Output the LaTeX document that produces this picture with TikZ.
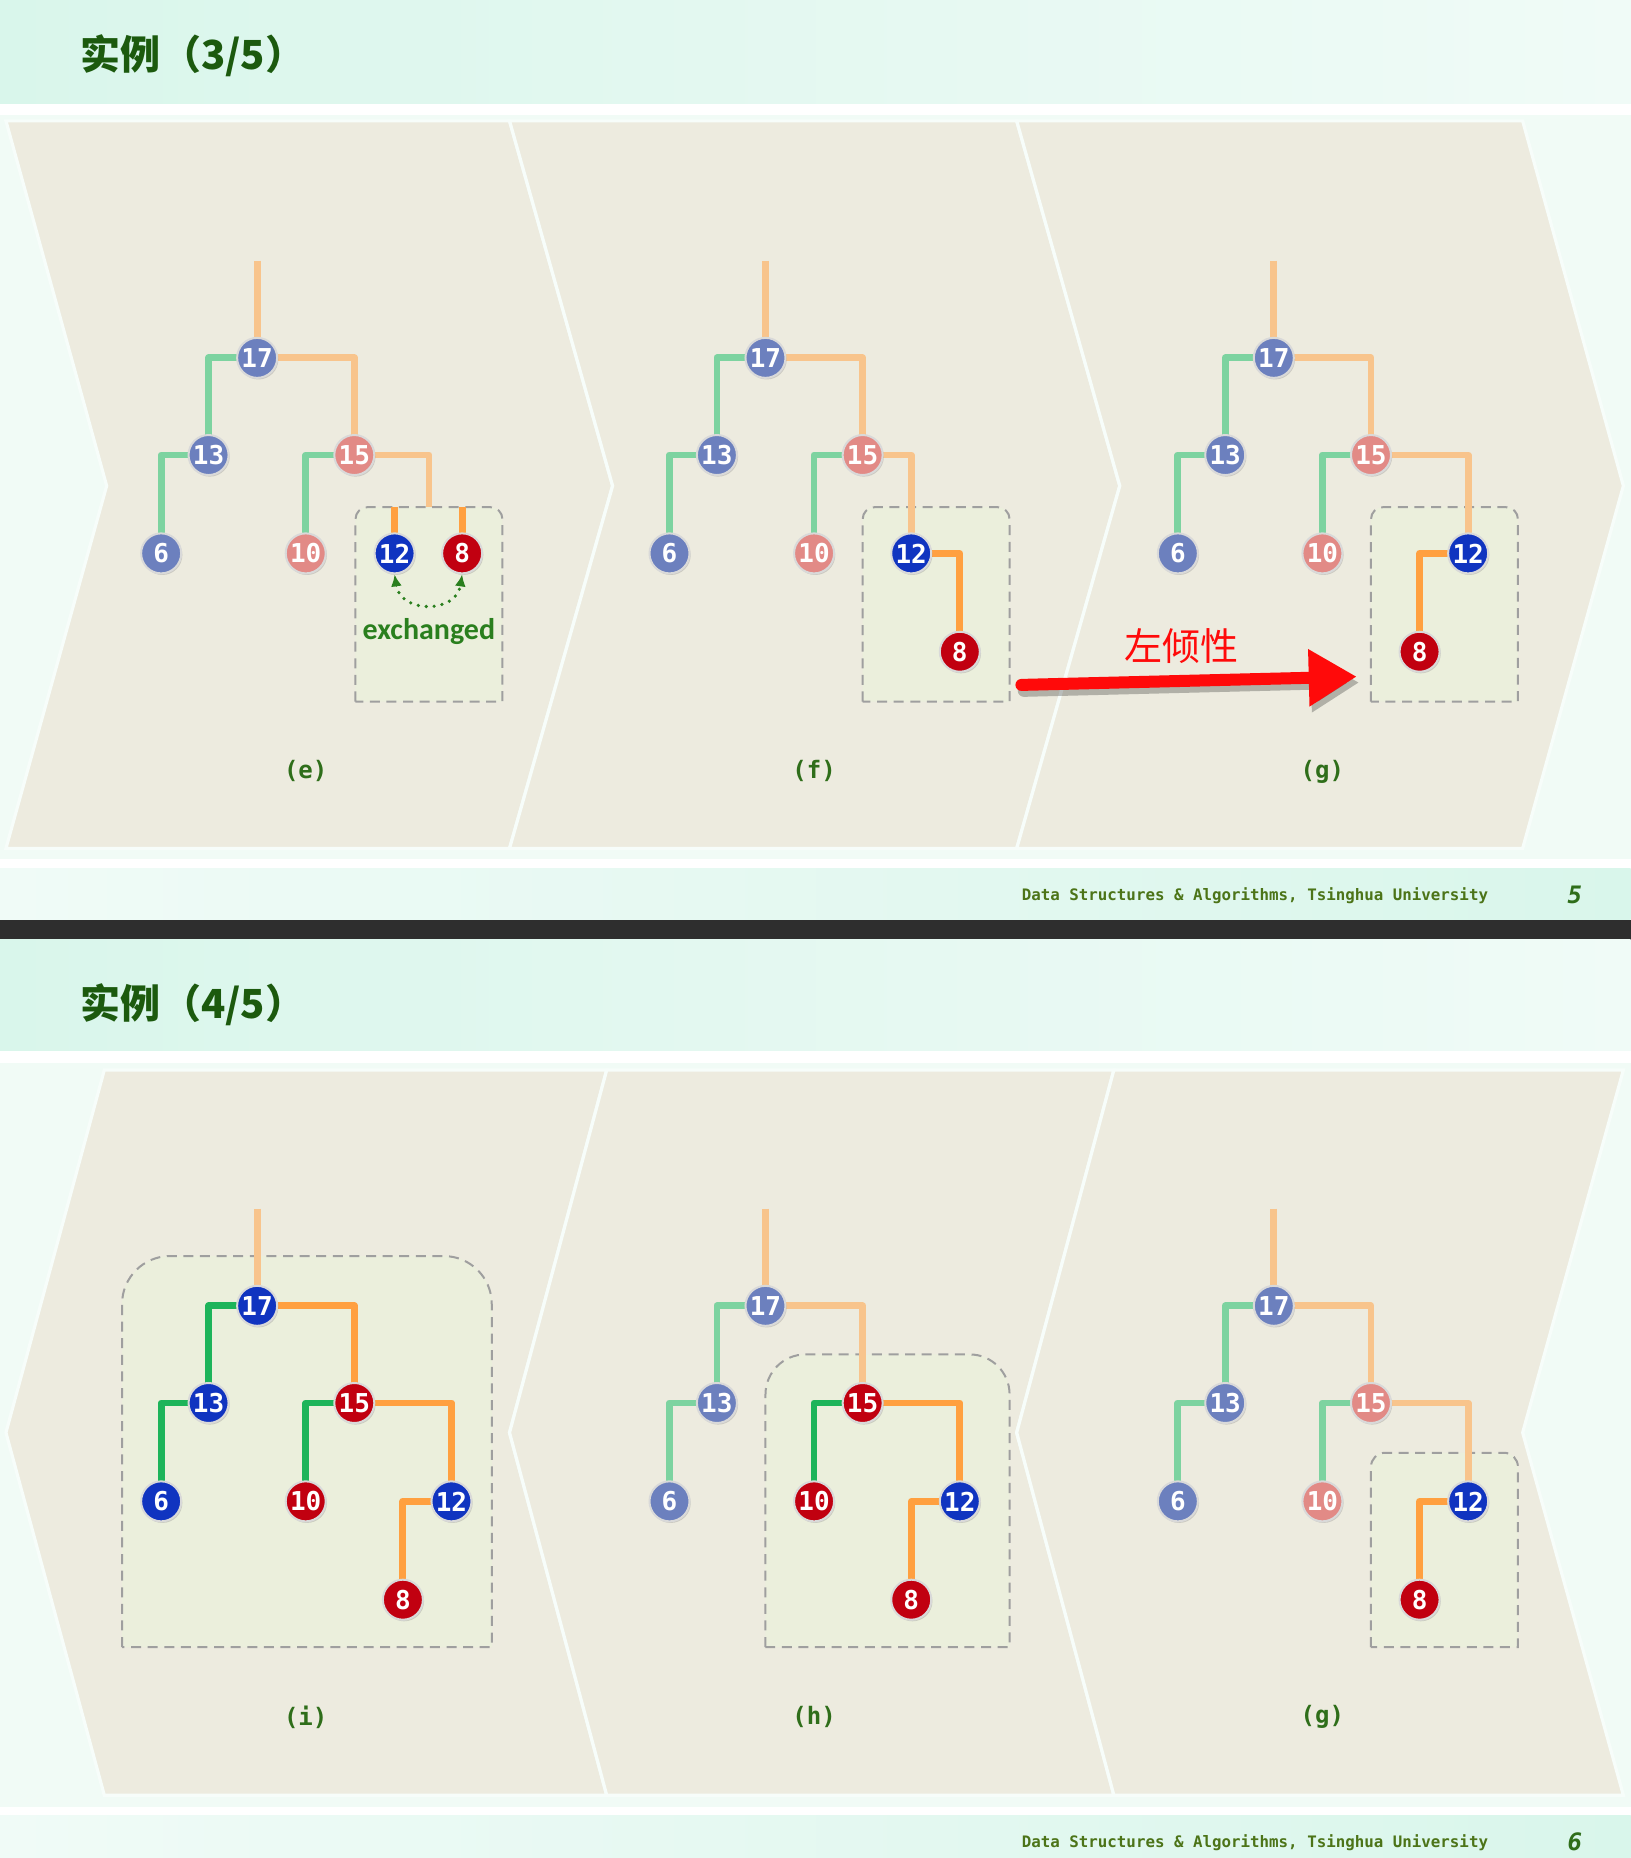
\documentclass[tikz,border=0pt]{standalone}
\usepackage{fontspec}
\usepackage{tikz}
\usetikzlibrary{arrows.meta,positioning,shadows}

\newfontfamily\monofont{DejaVu Sans Mono}
\newfontfamily\cjkfont{Noto Sans CJK SC}
\newfontfamily\calfont{Carlito}

\definecolor{mint}{HTML}{F1FBF6}
\definecolor{bandL}{HTML}{D9F6EB}
\definecolor{bandR}{HTML}{F0FBF7}
\definecolor{darkband}{HTML}{2E2E2E}
\definecolor{panel}{HTML}{EDEBDF}
\definecolor{boxfill}{HTML}{EBEFDC}
\definecolor{titlegreen}{HTML}{1C5A0E}
\definecolor{capgreen}{HTML}{2F6E1A}
\definecolor{footgreen}{HTML}{4C7418}
\definecolor{xchggreen}{HTML}{2A7F1E}
\definecolor{leanred}{HTML}{FF0A0A}
\definecolor{blkhot}{HTML}{1034C0}
\definecolor{blkdim}{HTML}{6C80BE}
\definecolor{redhot}{HTML}{C10010}
\definecolor{reddim}{HTML}{E28A86}
\definecolor{grnhot}{HTML}{1DB45A}
\definecolor{grndim}{HTML}{7DD3A0}
\definecolor{orghot}{HTML}{FFA040}
\definecolor{orgdim}{HTML}{F8C48C}

\pgfdeclarelayer{bg}
\pgfsetlayers{bg,main}

\begin{document}
\begin{tikzpicture}[
    x=0.5923pt, y=-0.5923pt,
    keynode/.style={circle, minimum size=20pt, inner sep=0pt, draw=white!70!gray, line width=1pt,
      text=white, font=\monofont\bfseries\fontsize{13}{13}\selectfont,
      drop shadow={opacity=0.3, shadow xshift=0.6pt, shadow yshift=-0.8pt}},
    bhot/.style={keynode, fill=blkhot},
    bdim/.style={keynode, fill=blkdim},
    rhot/.style={keynode, fill=redhot},
    rdim/.style={keynode, fill=reddim},
    branch/.style={line width=3.4pt, line join=round},
    lhot/.style={branch, draw=grnhot},
    ldim/.style={branch, draw=grndim},
    rlhot/.style={branch, draw=orghot},
    rldim/.style={branch, draw=orgdim},
    subtree/.style={draw=gray!75, line width=1pt, dash pattern=on 5pt off 3.3pt, fill=boxfill},
    slab/.style={fill=panel, draw=white!40!mint, line width=1.6pt},
    slidetitle/.style={anchor=west, inner sep=0pt, text=titlegreen, font=\cjkfont\bfseries\fontsize{20}{24}\selectfont},
    footer/.style={anchor=west, inner sep=0pt, text=footgreen, font=\monofont\bfseries\fontsize{7.9}{9}\selectfont},
    pageno/.style={text=capgreen, font=\monofont\bfseries\itshape\fontsize{12}{12}\selectfont},
    panellabel/.style={text=capgreen, font=\monofont\bfseries\fontsize{12}{12}\selectfont},
    xchg/.style={draw=xchggreen, line width=1.8pt, line cap=round, dash pattern=on 0pt off 4pt,
      {Latex[length=6pt,width=5.5pt]}-{Latex[length=6pt,width=5.5pt]}},
    xnote/.style={text=xchggreen, font=\calfont\bfseries\fontsize{15}{15}\selectfont},
    lean/.style={draw=leanred, line width=6pt, line cap=round, -{Triangle[length=24pt,width=27pt]}},
]
\useasboundingbox (0,0) rectangle (1376,1568);

\begin{pgfonlayer}{bg}
  \fill[mint] (0,0) rectangle (1376,1568);
  \shade[left color=bandL, right color=bandR] (0,0) rectangle (1376,88);
  \fill[white] (0,88) rectangle (1376,97);
  \fill[white] (0,725) rectangle (1376,733);
  \shade[left color=bandR, right color=bandL] (0,733) rectangle (1376,776);
  \fill[darkband] (0,776) rectangle (1376,793);
  \shade[left color=bandL, right color=bandR] (0,793) rectangle (1376,887);
  \fill[white] (0,887) rectangle (1376,897);
  \fill[white] (0,1525) rectangle (1376,1532);
  \shade[left color=bandR, right color=bandL] (0,1532) rectangle (1376,1568);
  \path[slab] (5,102) -- (430,102) -- (517,410) -- (430,716) -- (5,716) -- (90,410) -- cycle;
  \path[slab] (430,102) -- (858,102) -- (945,410) -- (858,716) -- (430,716) -- (517,410) -- cycle;
  \path[slab] (858,102) -- (1285,102) -- (1370,410) -- (1285,716) -- (858,716) -- (945,410) -- cycle;
  \path[slab] (88,903) -- (512,903) -- (430,1209) -- (512,1515) -- (88,1515) -- (5,1209) -- cycle;
  \path[slab] (512,903) -- (940,903) -- (858,1209) -- (940,1515) -- (512,1515) -- (430,1209) -- cycle;
  \path[slab] (940,903) -- (1370,903) -- (1285,1209) -- (1370,1515) -- (940,1515) -- (858,1209) -- cycle;
  \path[subtree] (300,592) [rounded corners=6pt] -- (300,428) -- (424,428) [sharp corners] -- (424,592) -- cycle;
  \path[subtree] (728,592) [rounded corners=6pt] -- (728,428) -- (852,428) [sharp corners] -- (852,592) -- cycle;
  \path[subtree] (1157,592) [rounded corners=6pt] -- (1157,428) -- (1281,428) [sharp corners] -- (1281,592) -- cycle;
  \path[subtree] (103,1390) [rounded corners=24pt] -- (103,1060) -- (415,1060) [sharp corners] -- (415,1390) -- cycle;
  \path[subtree] (646,1390) [rounded corners=20pt] -- (646,1143) -- (852,1143) [sharp corners] -- (852,1390) -- cycle;
  \path[subtree] (1157,1390) [rounded corners=7pt] -- (1157,1226) -- (1281,1226) [sharp corners] -- (1281,1390) -- cycle;
\end{pgfonlayer}

\node[slidetitle] (title1) at (68,47) {实例（3/5）};
\node[slidetitle] (title2) at (68,848) {实例（4/5）};
\node[footer] (foot1) at (862,756) {Data Structures \& Algorithms, Tsinghua University};
\node[pageno] (page1) at (1329,755) {5};
\node[footer] (foot2) at (862,1555) {Data Structures \& Algorithms, Tsinghua University};
\node[pageno] (page2) at (1329,1554) {6};

\coordinate (etop) at (217,220);
\node[bdim] (e17) at (217,302) {17};
\node[bdim] (e13) at (176,384) {13};
\node[rdim] (e15) at (299,384) {15};
\node[bdim] (e6) at (136,467) {6};
\node[rdim] (e10) at (258,467) {10};
\node[bhot] (e12) at (333,467) {12};
\node[rhot] (e8) at (390,467) {8};
\coordinate (esplit) at (362,428);
\coordinate (estubL) at (333,428);
\coordinate (estubR) at (390,428);
\node[xnote] (enote) at (362,533) {exchanged};
\node[panellabel] (ecap) at (258,651) {(e)};
\draw[xchg] (e12.south) .. controls (338,518) and (385,518) .. (e8.south);

\begin{scope}[shift={(429,0)}]
\coordinate (ftop) at (217,220);
\node[bdim] (f17) at (217,302) {17};
\node[bdim] (f13) at (176,384) {13};
\node[rdim] (f15) at (299,384) {15};
\node[bdim] (f6) at (136,467) {6};
\node[rdim] (f10) at (258,467) {10};
\node[bhot] (f12) at (340,467) {12};
\node[rhot] (f8) at (381,550) {8};
\node[panellabel] (fcap) at (258,651) {(f)};
\end{scope}

\begin{scope}[shift={(858,0)}]
\coordinate (gtop) at (217,220);
\node[bdim] (g17) at (217,302) {17};
\node[bdim] (g13) at (176,384) {13};
\node[rdim] (g15) at (299,384) {15};
\node[bdim] (g6) at (136,467) {6};
\node[rdim] (g10) at (258,467) {10};
\node[bhot] (g12) at (381,467) {12};
\node[rhot] (g8) at (340,550) {8};
\node[panellabel] (gcap) at (258,651) {(g)};
\end{scope}

\coordinate (leanS) at (862,578);
\coordinate (leanE) at (1145,571);
\draw[lean, draw=black, opacity=0.25] ([shift={(2,5)}]leanS) -- ([shift={(2,5)}]leanE);
\draw[lean] (leanS) -- (leanE);
\node[text=leanred, font=\cjkfont\fontsize{19}{19}\selectfont] (leantext) at (997,545) {左倾性};

\begin{scope}[shift={(0,800)}]
\coordinate (itop) at (217,220);
\node[bhot] (i17) at (217,302) {17};
\node[bhot] (i13) at (176,384) {13};
\node[rhot] (i15) at (299,384) {15};
\node[bhot] (i6) at (136,467) {6};
\node[rhot] (i10) at (258,467) {10};
\node[bhot] (i12) at (381,467) {12};
\node[rhot] (i8) at (340,550) {8};
\node[panellabel] (icap) at (258,649) {(i)};
\end{scope}

\begin{scope}[shift={(429,800)}]
\coordinate (htop) at (217,220);
\node[bdim] (h17) at (217,302) {17};
\node[bdim] (h13) at (176,384) {13};
\node[rhot] (h15) at (299,384) {15};
\node[bdim] (h6) at (136,467) {6};
\node[rhot] (h10) at (258,467) {10};
\node[bhot] (h12) at (381,467) {12};
\node[rhot] (h8) at (340,550) {8};
\node[panellabel] (hcap) at (258,649) {(h)};
\end{scope}

\begin{scope}[shift={(858,800)}]
\coordinate (ktop) at (217,220);
\node[bdim] (k17) at (217,302) {17};
\node[bdim] (k13) at (176,384) {13};
\node[rdim] (k15) at (299,384) {15};
\node[bdim] (k6) at (136,467) {6};
\node[rdim] (k10) at (258,467) {10};
\node[bhot] (k12) at (381,467) {12};
\node[rhot] (k8) at (340,550) {8};
\node[panellabel] (kcap) at (258,649) {(g)};
\end{scope}

\begin{pgfonlayer}{bg}
  \draw[rldim] (etop) -- (e17.center);
  \draw[ldim] (e17.center) -| (e13.center);
  \draw[rldim] (e17.center) -| (e15.center);
  \draw[ldim] (e13.center) -| (e6.center);
  \draw[ldim] (e15.center) -| (e10.center);
  \draw[rldim] (e15.center) -| (esplit);
  \draw[rlhot] (estubL) -- (e12.center);
  \draw[rlhot] (estubR) -- (e8.center);

  \draw[rldim] (ftop) -- (f17.center);
  \draw[ldim] (f17.center) -| (f13.center);
  \draw[rldim] (f17.center) -| (f15.center);
  \draw[ldim] (f13.center) -| (f6.center);
  \draw[ldim] (f15.center) -| (f10.center);
  \draw[rldim] (f15.center) -| (f12.center);
  \draw[rlhot] (f12.center) -| (f8.center);

  \draw[rldim] (gtop) -- (g17.center);
  \draw[ldim] (g17.center) -| (g13.center);
  \draw[rldim] (g17.center) -| (g15.center);
  \draw[ldim] (g13.center) -| (g6.center);
  \draw[ldim] (g15.center) -| (g10.center);
  \draw[rldim] (g15.center) -| (g12.center);
  \draw[rlhot] (g12.center) -| (g8.center);

  \draw[rldim] (itop) -- (i17.center);
  \draw[lhot] (i17.center) -| (i13.center);
  \draw[rlhot] (i17.center) -| (i15.center);
  \draw[lhot] (i13.center) -| (i6.center);
  \draw[lhot] (i15.center) -| (i10.center);
  \draw[rlhot] (i15.center) -| (i12.center);
  \draw[rlhot] (i12.center) -| (i8.center);

  \draw[rldim] (htop) -- (h17.center);
  \draw[ldim] (h17.center) -| (h13.center);
  \draw[rldim] (h17.center) -| (h15.center);
  \draw[ldim] (h13.center) -| (h6.center);
  \draw[lhot] (h15.center) -| (h10.center);
  \draw[rlhot] (h15.center) -| (h12.center);
  \draw[rlhot] (h12.center) -| (h8.center);

  \draw[rldim] (ktop) -- (k17.center);
  \draw[ldim] (k17.center) -| (k13.center);
  \draw[rldim] (k17.center) -| (k15.center);
  \draw[ldim] (k13.center) -| (k6.center);
  \draw[ldim] (k15.center) -| (k10.center);
  \draw[rldim] (k15.center) -| (k12.center);
  \draw[rlhot] (k12.center) -| (k8.center);
\end{pgfonlayer}
\end{tikzpicture}
\end{document}
